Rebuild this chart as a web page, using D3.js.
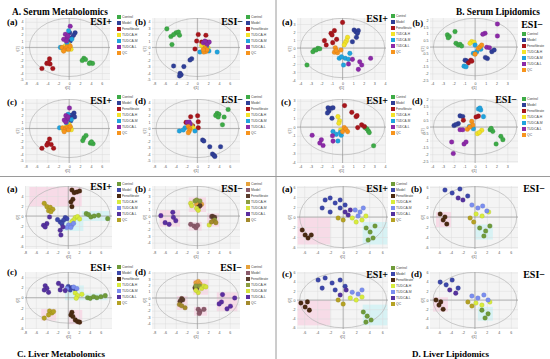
<!DOCTYPE html>
<html>
<head>
<meta charset="utf-8">
<script src="https://cdn.jsdelivr.net/npm/d3@7"></script>
<style>body{margin:0;background:#fff}</style>
</head>
<body>
<svg id="fig" width="550" height="359"></svg>
<script>
// group names shared by every score plot
const groups = ["Control", "Model", "Fenofibrate", "TUDCA-H", "TUDCA-M", "TUDCA-L", "QC"];

const serumColors = ["#3dab47", "#2f3f98", "#a8161c", "#f3e328", "#20a3de", "#8c2aa8", "#f7941d"];
const liverColors = ["#6f9b3a", "#3c47aa", "#4a2a12", "#d8ec3c", "#7b8ef0", "#55329f", "#b5a224"];
const liverColorsAlt = ["#e6a23c", "#8a5a6a", "#5a3c2c", "#8b9c40", "#d5e23c", "#5b2ea0", "#a38a2c"];

// score values: [group index, t[1], t[2]]
const serumMetPosA = [
  [0,2.7,-1.7],[0,3.0,-1.9],[0,2.4,-2.05],[0,3.9,-2.4],[0,4.3,-2.5],[0,3.7,-2.5],
  [1,1.1,2.3],[1,0.1,2.3],[1,0.5,1.5],[1,0.2,1.0],[1,0.8,1.9],
  [2,-3.6,-1.8],[2,-4.1,-2.5],[2,-3.5,-2.6],[2,-3.8,-2.4],[2,-5.0,-3.3],[2,-3.0,-3.3],
  [3,-0.7,0.26],[3,-0.1,0.5],[3,0.2,0],[3,-0.4,-0.3],[3,-1.1,-0.42],[3,0.35,-0.3],
  [4,-0.1,2.6],[4,-1.6,0],[4,0.5,1.3],[4,-0.4,0.74],
  [5,0.2,3.3],[5,-0.7,2.05],[5,-0.4,1.5],[5,-1.0,1.26],[5,-0.2,1.8],[5,-0.5,1.0],
  [6,-1.3,0],[6,-0.7,-0.2],[6,-0.4,0.1],[6,-0.1,-0.3],[6,-1.0,-0.58],[6,0.2,0.2]
];
const serumMetNegB = [
  [0,-5.65,2.9],[0,-3.94,2.3],[0,-3.5,2.4],[0,-3.3,1.9],[0,-4.9,1.7],[0,-4.4,2.0],[0,-4.7,0.44],
  [1,-1.05,-1.77],[1,-1.36,-1.98],[1,-4.4,-2.9],[1,-2.5,-3.0],[1,-3.2,-4.06],[1,-3.0,-4.27],[1,-3.3,-4.47],
  [2,0.17,2.03],[2,1.58,1.9],[2,-0.13,0.99],[2,0.8,0.83],[2,1.8,0.83],[2,-0.44,-0.26],[2,1.4,-0.26],
  [3,0.8,0.3],[3,1.2,0],[3,2.0,-0.1],[3,1.6,0.5],
  [4,0.48,-0.73],[4,3.67,-0.73],[4,2.14,-0.57],[4,1.7,-0.05],
  [5,1.1,0.73],[5,2.2,0.83],[5,1.8,0.45],[5,1.4,0.99],
  [6,1.4,-0.1],[6,1.6,-0.63],[6,1.2,-0.73],[6,1.8,-0.36],[6,1.1,-0.36]
];
const serumMetPosC = [
  [0,2.73,-1.45],[0,3.1,-1.1],[0,2.5,-1.9],[0,3.9,-2.3],[0,4.4,-2.4],[0,4.1,-2.1],
  [1,0.9,2.4],[1,0.5,2.1],[1,0.2,1.6],[1,1.0,1.8],[1,0.3,1.2],
  [2,-3.6,-1.66],[2,-3.9,-2.3],[2,-3.3,-2.5],[2,-5.0,-3.1],[2,-2.85,-3.1],[2,-4.1,-2.6],
  [3,-0.5,0.3],[3,0,0.6],[3,0.3,0.1],[3,-0.3,-0.2],[3,-1.0,-0.3],[3,0.4,-0.2],
  [4,-1.76,0.1],[4,-0.2,2.2],[4,0.4,1.4],[4,-0.5,0.9],
  [5,0.06,3.2],[5,-0.6,2.0],[5,-0.3,1.5],[5,-0.9,1.3],[5,-0.2,1.8],[5,-0.6,1.0],
  [6,-1.2,0.1],[6,-0.7,-0.1],[6,-0.3,0.2],[6,-0.1,-0.2],[6,-0.9,-0.5],[6,0.2,0.3]
];
const serumMetNegD = [
  [0,3.67,2.36],[0,4.0,2.2],[0,3.4,2.04],[0,3.86,1.78],[0,4.96,1.78],[0,5.7,2.97],[0,4.65,0.58],
  [1,0.97,-1.8],[1,1.2,-1.96],[1,2.3,-2.85],[1,4.3,-2.85],[1,2.8,-4.0],[1,3.06,-4.2],[1,3.24,-4.37],
  [2,-1.24,1.83],[2,0.05,1.98],[2,0.17,1.04],[2,0.17,0.1],[2,-2.1,0.94],[2,-0.87,0.42],
  [3,-1.05,0.3],[3,-0.75,0.05],[3,-1.2,0.6],
  [4,-3.33,-0.4],[4,-2.28,0.1],[4,-0.44,-0.4],[4,-2.6,-0.24],
  [5,-1.86,0.94],[5,-1.5,1.0],[5,-1.3,0.7],
  [6,-1.67,0.3],[6,-1.36,-0.05],[6,-1.5,-0.4],[6,-1.67,-0.67]
];
const serumLipPosA = [
  [0,-2.65,-0.25],[0,-2.33,-0.04],[0,-2.8,-0.46],[0,-2.49,-0.25],[0,-2.15,-0.1],[0,-3.36,-2.13],
  [1,1.09,2.25],[1,1.25,2.04],[1,1.49,2.17],[1,1.4,1.83],[1,1.31,1.33],[1,0.93,0.79],
  [2,0,3.2],[2,-0.77,2.17],[2,-1.09,1.83],[2,-0.99,1.63],[2,-1.71,0.92],[2,-1.54,0.38],[2,-0.93,0.67],[2,-0.56,1.08],
  [3,0.47,1.33],[3,0.37,0.92],[3,0.25,0.67],[3,0.15,0.38],
  [4,-0.31,-1.29],[4,0.09,-2.13],[4,0.69,-0.67],[4,0.25,-1.29],[4,0.56,-1.42],[4,-0.1,-1.1],
  [5,0.56,-2.0],[5,1.62,-1.71],[5,1.81,-2.13],[5,1.49,-2.67],[5,2.65,-1.29],[5,0.93,-1.42],
  [6,-0.69,0.04],[6,-0.77,-0.54],[6,-0.47,-0.58],[6,-0.15,-0.25],[6,-0.6,-0.3]
];
const serumLipNegB = [
  [0,-2.58,0.92],[0,-2.4,0.8],[0,-1.87,1.17],[0,-1.78,0.28],[0,-1.56,0.15],[0,-1.4,0.2],[0,-1.25,0.08],[0,-2.5,0.7],
  [1,1.56,-0.35],[1,1.78,-0.23],[1,1.15,-0.87],[1,0.96,-0.79],[1,-0.93,-1.0],[1,-0.78,-1.05],
  [2,-0.4,-1.0],[2,-0.62,-1.2],[2,-0.31,-1.07],
  [3,-0.31,0.41],[3,-0.47,0.28],[3,-0.09,0.36],
  [4,-1.03,-1.45],[4,-0.84,-1.5],[4,0.0,0.15],[4,0.16,-0.35],[4,-0.16,-0.48],[4,0.53,-0.17],
  [5,2.08,1.75],[5,2.08,0.84],[5,0.93,1.04],[5,0.72,0.97],[5,1.09,-0.02],[5,1.34,-0.05],
  [6,0.31,-0.1],[6,0.47,0.02],[6,0,-0.54],[6,0.62,0.15]
];
const serumLipPosC = [
  [0,2.12,-0.06],[0,2.3,-0.21],[0,2.43,-0.44],[0,2.52,-0.63],[0,2.93,-2.13],
  [1,-1.37,2.2],[1,-1.06,2.15],[1,-0.9,2.2],[1,-1.3,1.8],[1,-1.43,1.6],[1,-1.0,1.0],
  [2,0.19,2.45],[2,0.87,1.68],[2,1.28,1.19],[2,1.37,1.3],[2,1.8,0.25],[2,1.43,-0.06],[2,2.06,0.06],
  [3,-0.44,1.19],[3,-0.28,0.71],[3,-0.19,-0.33],[3,-0.35,0.44],
  [4,-0.9,-0.52],[4,-0.59,-0.83],[4,-0.12,-0.94],[4,-0.44,-1.59],[4,-0.2,-0.6],
  [5,-2.87,-0.94],[5,-2.0,-1.44],[5,-2.15,-1.82],[5,-1.84,-2.1],[5,-0.95,-1.0],[5,-0.9,-1.6],
  [6,0.16,-0.06],[6,0.31,-0.25],[6,0.47,-0.52],[6,0,-0.52]
];
const serumLipNegD = [
  [0,1.4,-0.2],[0,1.65,-0.32],[0,1.5,-0.1],[0,2.4,-0.69],[0,2.59,-0.93],[0,1.96,-1.25],
  [1,-1.4,0.82],[1,-1.15,0.77],[1,-1.96,0.11],[1,-1.56,0.25],[1,-1.78,0.18],
  [2,-1.09,0.5],[2,0.31,0.8],[2,0.09,0.74],
  [3,0.22,-0.49],[3,0.62,-0.24],[3,0.4,-0.4],
  [4,0.31,1.32],[4,0.53,1.25],[4,0.45,1.4],[4,0.78,0.76],[4,-0.53,0.04],[4,-0.16,-0.13],
  [5,-1.4,-0.2],[5,-1.15,-0.2],[5,-2.18,-1.1],[5,-1.03,-1.25],[5,-0.84,-1.1],[5,-2.03,-1.95],
  [6,-0.31,0.41],[6,-0.72,-0.17],[6,-0.22,0.14],[6,-0.5,0.0]
];
const liverMetPosA = [
  [0,3.33,0.47],[0,3.76,0.27],[0,4.2,-0.2],[0,4.8,0],[0,5.6,0.13],[0,7.3,-0.53],
  [1,-0.56,-0.33],[1,-0.25,-0.53],[1,-0.87,-0.87],[1,-1.48,-1.2],[1,-1.98,-0.73],[1,-1.17,-1.53],
  [2,0.68,5.2],[2,1.1,4.67],[2,1.6,4.8],[2,2.1,5.0],[2,0.86,3.33],[2,0.5,2.8],[2,0.68,1.87],
  [3,1.3,-0.33],[3,1.72,-0.13],[3,2.1,-0.6],[3,0.99,-0.8],[3,0.68,-1.13],
  [4,0.06,-1.8],[4,0.68,-1.8],[4,-0.25,-2.3],[4,0.49,-2.3],[4,0.99,-1.47],
  [5,-3.46,-0.2],[5,-3.95,-1.53],[5,-4.57,-1.87],[5,-4.26,-2.2],[5,-1.48,-2.87],[5,-1.35,-3.8],[5,-0.98,-2.2],
  [6,-4.44,2.53],[6,-3.95,1.87],[6,-3.33,1.73],[6,-3.64,1.07],[6,-2.84,1.33],[6,-3.2,0.87]
];
const liverMetNegB = [
  [0,0.17,2.15],[0,0.48,1.9],[0,0.79,1.75],[0,-0.13,1.75],
  [1,-1.24,-1.25],[1,-0.63,-1.5],[1,-0.26,-1.75],[1,0.05,-1.4],[1,2.63,-0.1],[1,3.06,-0.25],
  [2,0.2,1.3],[2,0.5,1.55],[2,2.8,-0.05],[2,3.2,-0.2],
  [3,-0.44,2.25],[3,-0.13,2.4],[3,0.48,2.25],[3,3.2,-0.6],
  [4,-1.24,1.9],[4,-1.05,1.55],[4,-0.13,1.15],[4,0.17,0.85],[4,2.2,-1.35],
  [5,-4.55,0.55],[5,-6.76,0.05],[5,-4.44,-0.2],[5,-4.0,-0.7],[5,-5.97,-1.0],[5,-5.23,-1.25],
  [6,2.94,-0.75],[6,3.43,-1.0],[6,2.6,-0.9]
];
const liverMetPosC = [
  [0,3.58,0],[0,4.07,-0.13],[0,4.7,0.2],[0,5.3,0],[0,6.05,0.2],[0,6.85,0.4],
  [1,0.0,2.2],[1,0.68,1.98],[1,1.3,1.66],[1,0.37,1.5],
  [2,0.68,-2.87],[2,0.49,-3.4],[2,0.86,-3.7],[2,1.3,-4.36],[2,1.72,-4.69],[2,2.1,-4.8],
  [3,1.3,0.92],[3,1.72,0.4],[3,1.48,-0.11],[3,2.53,0.66],
  [4,-0.25,1.8],[4,1.0,2.1],[4,1.6,1.79],
  [5,-4.26,2.35],[5,-3.95,1.83],[5,-4.44,1.5],[5,-3.64,1.05],[5,-1.8,2.8],[5,-1.17,2.3],[5,-1.48,1.53],[5,-0.56,1.39],
  [6,-3.46,-2.6],[6,-3.02,-3.0],[6,-3.64,-3.37],[6,-2.72,-2.73],[6,-4.44,-4.0]
];
const liverMetNegD = [
  [0,-0.26,2.4],[0,0.17,2.6],[0,0.48,2.24],
  [1,0.17,-1.8],[1,0.48,-2.15],[1,0.35,-2.46],[1,1.22,-1.8],
  [2,-0.44,1.6],[2,-0.13,1.5],[2,-2.9,-0.1],[2,-2.7,-0.3],[2,-3.2,-0.52],
  [3,0.4,1.9],[3,-0.3,1.9],
  [4,0.79,1.5],[4,1.22,1.9],[4,1.58,1.75],[4,0.17,0.85],[4,-0.26,1.2],
  [5,4.66,0.53],[5,6.92,0],[5,4.47,-0.63],[5,4.04,-0.94],[5,6.13,-1.3],[5,5.5,-1.72],
  [6,-3.33,-1.03],[6,-2.9,-1.24],[6,-2.28,-1.55]
];
const liverLipPosA = [
  [0,3.54,-2.2],[0,4.15,-3.0],[0,4.6,-4.2],[0,3.85,-4.6],[0,4.9,-1.8],
  [1,-2.77,3.4],[1,-2.0,3.8],[1,-1.23,2.8],[1,-0.46,3.4],[1,-3.23,1.8],[1,-2.0,1.0],[1,-0.46,1.8],[1,0.3,2.4],
  [2,-6.3,-2.6],[2,-5.85,-3.6],[2,-5.4,-4.2],[2,-4.9,-3.6],
  [3,1.4,-0.2],[3,2.0,-1.0],[3,2.9,-0.6],[3,3.5,0.2],
  [4,1.85,1.4],[4,2.6,1.0],[4,3.1,1.8],[4,2.3,0.2],
  [5,0.3,1.0],[5,1.1,1.4],[5,0.77,0.4],
  [6,-0.77,-0.2],[6,0,-0.6]
];
const liverLipNegB = [
  [0,0.8,-2.2],[0,1.8,-2.8],[0,2.5,-1.8],[0,1.5,-3.8],
  [1,-5,5.4],[1,-3.8,4.8],[1,-2.5,5.6],[1,-1.2,4.2],
  [2,-5.8,0.6],[2,-5.3,-0.6],[2,-4.7,-1.4],[2,-5,0],
  [3,0.2,0.6],[3,1.2,0.2],[3,2.3,1.0],
  [4,-0.5,2.4],[4,0.5,1.8],[4,1.3,2.2],[4,2,1.2],
  [5,-2.8,3.8],[5,-2,3.4],
  [6,-0.8,-0.2],[6,-0.2,-1]
];
const liverLipPosC = [
  [0,3.1,-2.6],[0,3.7,-3.5],[0,4.3,-4.35],[0,3.5,-4.8],
  [1,-3.85,4.35],[1,-2.77,4.8],[1,-1.7,3.7],[1,-0.46,4.35],[1,-3.23,2.6],[1,-1.23,2.2],[1,0.3,3.0],
  [2,-6.5,-0.65],[2,-5.85,-1.5],[2,-5.2,-2.2],[2,-5.5,-0.4],
  [3,1.1,0.43],[3,2,0],[3,2.9,0.65],
  [4,1.4,1.7],[4,2.3,1.3],[4,2.9,2.2],
  [5,0.46,2.2],[5,-0.46,1.1],
  [6,-0.77,0],[6,0,-0.87]
];
const liverLipNegD = [
  [0,1.17,-2.2],[0,2.2,-3.0],[0,1.7,-3.9],
  [1,-5.8,3.9],[1,-4.8,3.3],[1,-3.8,4.35],[1,-2.8,2.6],
  [2,-6.5,0],[2,-6,-1.1],[2,-5.3,-2.0],[2,-5.7,-0.4],
  [3,0.17,-0.65],[3,1.17,-1.1],[3,2.5,-0.43],
  [4,-0.5,0.87],[4,0.5,0.43],[4,1.5,1.1],[4,2.2,0],
  [5,-4.2,2.2],[5,-3.2,1.5],
  [6,-1.17,-0.43],[6,-0.5,-1.3]
];

const pink = "#f8d3e3", cyan = "#cdf1f4";
const evens8 = [-8, -6, -4, -2, 0, 2, 4, 6];
const ones4to5 = [4, 3, 2, 1, 0, -1, -2, -3, -4, -5];
const ones4 = [-4, -3, -2, -1, 0, 1, 2, 3, 4];
const halves = [2, 1.5, 1, 0.5, 0, -0.5, -1, -1.5, -2, -2.5];
const evens6 = [-6, -4, -2, 0, 2, 4, 6];

const panels = [
  {data: serumMetPosA, pal: serumColors, tag: "(a)", tp: [7, 25], esi: "ESI+", ep: [112, 25],
   x: 25, y: 18, w: 85, h: 62, xd: [-8.1, 7.5], yd: [-5.1, 4.6], xt: evens8, yt: ones4to5, leg: [117, 17]},
  {data: serumMetNegB, pal: serumColors, tag: "(b)", tp: [135, 25], esi: "ESI−", ep: [243, 25],
   x: 152, y: 18, w: 88, h: 62, xd: [-8.4, 7.9], yd: [-5.1, 4.6], xt: evens8, yt: ones4to5, leg: [246, 17]},
  {data: serumMetPosC, pal: serumColors, tag: "(c)", tp: [7, 105], esi: "ESI+", ep: [112, 104],
   x: 25, y: 99, w: 85, h: 64, xd: [-8.1, 7.5], yd: [-5.4, 4.6], xt: evens8, yt: ones4to5, leg: [117, 97]},
  {data: serumMetNegD, pal: serumColors, tag: "(d)", tp: [135, 104], esi: "ESI−", ep: [243, 103],
   x: 152, y: 99, w: 88, h: 64, xd: [-8.4, 7.9], yd: [-5.4, 4.6], xt: evens8, yt: ones4to5, leg: [246, 97]},
  {data: serumLipPosA, pal: serumColors, tag: "(a)", tp: [282, 25], esi: "ESI+", ep: [388, 22],
   x: 297, y: 18, w: 89, h: 62, xd: [-4.3, 4.1], yd: [-4, 3.75], xt: ones4, yt: [3, 2, 1, 0, -1, -2, -3, -4], leg: [391, 16], legFont: 3.1},
  {data: serumLipNegB, pal: serumColors, tag: "(b)", tp: [412.5, 26], esi: "ESI−", ep: [543, 28],
   x: 430, y: 18, w: 88, h: 62, xd: [-4.2, 4.0], yd: [-2.5, 2.2], xt: [-4, -3, -2, -1, 0, 1, 2, 3], yt: halves, leg: [522, 34], tagFont: 8.6},
  {data: serumLipPosC, pal: serumColors, tag: "(c)", tp: [281, 105], esi: "ESI+", ep: [388, 104],
   x: 297, y: 99, w: 89, h: 64, xd: [-4.3, 4.1], yd: [-4.1, 3.2], xt: ones4, yt: [3, 2, 1, 0, -1, -2, -3, -4], leg: [391, 97], legFont: 3.1},
  {data: serumLipNegD, pal: serumColors, tag: "(d)", tp: [412, 104], esi: "ESI−", ep: [517, 103],
   x: 430, y: 99, w: 88, h: 64, xd: [-4.2, 4.0], yd: [-2.65, 2.06], xt: [-4, -3, -2, -1, 0, 1, 2, 3], yt: halves, leg: [522, 99], tagFont: 8.6},
  {data: liverMetPosA, pal: liverColors, tag: "(a)", tp: [7, 192], esi: "ESI+", ep: [112, 190],
   x: 25, y: 186, w: 87, h: 63, xd: [-8, 8.1], yd: [-6.6, 6.0], xt: evens8, yt: [4, 2, 0, -2, -4, -6], leg: [117, 184],
   shades: [[-7.2, 2.5, 1.9, 5.8, pink], [-1.5, 2.8, -3, -0.5, cyan], [2.5, 7.6, -1, 1, cyan]]},
  {data: liverMetNegB, pal: liverColorsAlt, tag: "(b)", tp: [135, 192], esi: "ESI−", ep: [243, 192],
   x: 152, y: 186, w: 88, h: 63, xd: [-8.4, 7.9], yd: [-4.95, 4.5], xt: evens8, yt: ones4.slice().reverse(), leg: [246, 184],
   shades: [[-7, -3.2, -1.6, 0.9, pink], [-1.6, 0.8, -2.2, -0.9, pink], [-1.6, 1.6, 0.6, 2.8, pink], [1.8, 4, -1.6, 0.4, pink]]},
  {data: liverMetPosC, pal: liverColors, tag: "(c)", tp: [7, 275], esi: "ESI+", ep: [112, 271],
   x: 25, y: 272, w: 87, h: 57, xd: [-8, 8.1], yd: [-6.14, 5.04], xt: evens8, yt: [4, 2, 0, -2, -4, -6], leg: [117, 267],
   shades: [[-5, -2.2, -4.5, -2.2, pink], [0, 2.6, -5.2, -2.4, pink], [-0.6, 2.9, -0.5, 2.4, cyan], [3, 7.3, -0.5, 0.8, cyan]]},
  {data: liverMetNegD, pal: liverColorsAlt, tag: "(d)", tp: [135, 275], esi: "ESI−", ep: [242, 271],
   x: 152, y: 272, w: 88, h: 57, xd: [-8.4, 7.9], yd: [-4.9, 4.1], xt: evens8, yt: ones4.slice().reverse(), leg: [246, 267],
   shades: [[-3.8, -1.8, -1.9, 0.3, pink], [-0.6, 1.8, -2.8, -1.4, pink], [-0.8, 2, 0.5, 2.9, pink], [3.6, 7.4, -2.1, 0.9, pink]]},
  {data: liverLipPosA, pal: liverColors, tag: "(a)", tp: [282, 192], esi: "ESI+", ep: [388, 192],
   x: 297, y: 186, w: 91, h: 63, xd: [-7.1, 6.9], yd: [-6.4, 6.2], xt: evens6, yt: evens6.slice().reverse(), leg: [391, 184],
   shades: [[-7, -2, -5.5, 0, pink], [3, 6.8, -5.5, -1, cyan]]},
  {data: liverLipNegB, pal: liverColors, tag: "(b)", tp: [411, 192], esi: "ESI−", ep: [545, 192],
   x: 430, y: 186, w: 88, h: 63, xd: [-7.5, 7.2], yd: [-6.4, 6.2], xt: evens6, yt: evens6.slice().reverse(),
   shades: [[-6.5, -4, -2, 1, pink], [0, 3, -4.5, -1.5, cyan]]},
  {data: liverLipPosC, pal: liverColors, tag: "(c)", tp: [282, 277], esi: "ESI+", ep: [388, 278],
   x: 297, y: 272, w: 91, h: 57, xd: [-7.1, 6.9], yd: [-6.3, 6.1], xt: evens6, yt: evens6.slice().reverse(), leg: [391, 268],
   shades: [[-7, -2, -5.5, 0, pink], [3, 6.8, -5.5, -1, cyan]]},
  {data: liverLipNegD, pal: liverColors, tag: "(d)", tp: [411, 277], esi: "ESI−", ep: [545, 278],
   x: 430, y: 272, w: 88, h: 57, xd: [-7.5, 7.2], yd: [-6.3, 6.1], xt: evens6, yt: evens6.slice().reverse(),
   shades: [[-7, -4.5, -2.5, 0.6, pink], [0.5, 3, -4.5, -1.5, cyan]]}
];

const svg = d3.select("#fig");
svg.append("rect").attr("width", 550).attr("height", 359).attr("fill", "#fff");
const defs = svg.append("defs");
const serif = "'Liberation Serif', 'Times New Roman', serif";
const sans = "'Liberation Sans', Arial, sans-serif";

function drawPanel(p, i) {
  const x = d3.scaleLinear().domain(p.xd).range([p.x, p.x + p.w]);
  const y = d3.scaleLinear().domain(p.yd).range([p.y + p.h, p.y]);
  const g = svg.append("g");

  defs.append("clipPath").attr("id", "clip" + i)
    .append("rect").attr("x", p.x).attr("y", p.y).attr("width", p.w).attr("height", p.h);

  g.append("rect")
    .attr("x", p.x).attr("y", p.y).attr("width", p.w).attr("height", p.h)
    .attr("fill", "#f4f4f4");

  const inner = g.append("g").attr("clip-path", "url(#clip" + i + ")");

  // highlighted regions
  (p.shades || []).forEach(s => {
    inner.append("rect")
      .attr("x", x(s[0])).attr("y", y(s[3]))
      .attr("width", x(s[1]) - x(s[0])).attr("height", y(s[2]) - y(s[3]))
      .attr("fill", s[4]).attr("opacity", 0.75);
  });

  // grid
  inner.append("g").attr("transform", `translate(0,${p.y + p.h})`)
    .call(d3.axisBottom(x).tickValues(p.xt).tickSize(-p.h).tickFormat(""))
    .call(a => { a.select(".domain").remove(); a.selectAll("line").attr("stroke", "#dcdcdc").attr("stroke-width", 0.5); });
  inner.append("g").attr("transform", `translate(${p.x},0)`)
    .call(d3.axisLeft(y).tickValues(p.yt).tickSize(-p.w).tickFormat(""))
    .call(a => { a.select(".domain").remove(); a.selectAll("line").attr("stroke", "#dcdcdc").attr("stroke-width", 0.5); });

  // Hotelling ellipse
  const rx = Math.min(-p.xd[0], p.xd[1]) * 0.97;
  const ry = Math.min(-p.yd[0], p.yd[1]) * 0.99;
  inner.append("ellipse")
    .attr("cx", x(0)).attr("cy", y(0))
    .attr("rx", x(rx) - x(0)).attr("ry", y(0) - y(ry))
    .attr("fill", "none").attr("stroke", "#b5b5b5").attr("stroke-width", 0.7);

  // zero lines
  inner.append("line").attr("x1", x(0)).attr("x2", x(0)).attr("y1", p.y).attr("y2", p.y + p.h)
    .attr("stroke", "#8c8c8c").attr("stroke-width", 0.6);
  inner.append("line").attr("x1", p.x).attr("x2", p.x + p.w).attr("y1", y(0)).attr("y2", y(0))
    .attr("stroke", "#8c8c8c").attr("stroke-width", 0.6);

  // tick labels
  const ax = g.append("g").attr("transform", `translate(0,${p.y + p.h})`)
    .call(d3.axisBottom(x).tickValues(p.xt).tickSize(0).tickPadding(2.2).tickFormat(d => d));
  const ay = g.append("g").attr("transform", `translate(${p.x},0)`)
    .call(d3.axisLeft(y).tickValues(p.yt).tickSize(0).tickPadding(1.4).tickFormat(d => d));
  [ax, ay].forEach(a => {
    a.select(".domain").remove();
    a.selectAll("text").attr("font-size", 3.6).attr("fill", "#555").attr("font-family", sans);
  });
  g.append("text").attr("x", p.x + p.w / 2).attr("y", p.y + p.h + 9)
    .attr("text-anchor", "middle").attr("font-size", 3.6).attr("fill", "#555").attr("font-family", sans)
    .text("t[1]");
  g.append("text")
    .attr("transform", `translate(${p.x - 6.5},${p.y + p.h / 2}) rotate(-90)`)
    .attr("text-anchor", "middle").attr("font-size", 3.6).attr("fill", "#555").attr("font-family", sans)
    .text("t[2]");

  // score points
  inner.selectAll("circle.pt").data(p.data).join("circle")
    .attr("class", "pt")
    .attr("cx", d => x(d[1])).attr("cy", d => y(d[2]))
    .attr("r", 2.3)
    .attr("fill", d => p.pal[d[0]])
    .attr("stroke", d => d3.color(p.pal[d[0]]).darker(0.7))
    .attr("stroke-width", 0.3);

  // panel tag and ionisation mode
  g.append("text").attr("x", p.tp[0]).attr("y", p.tp[1])
    .attr("font-family", serif).attr("font-weight", "bold").attr("font-size", p.tagFont || 9)
    .text(p.tag);
  g.append("text").attr("x", p.ep[0]).attr("y", p.ep[1])
    .attr("text-anchor", "end")
    .attr("font-family", serif).attr("font-weight", "bold").attr("font-size", 10)
    .text(p.esi);

  // legend
  if (p.leg) {
    const lg = g.append("g").attr("transform", `translate(${p.leg[0]},${p.leg[1]})`);
    groups.forEach((name, k) => {
      lg.append("rect").attr("x", 0).attr("y", k * 6 - 2).attr("width", 4).attr("height", 4)
        .attr("fill", p.pal[k]);
      lg.append("text").attr("x", 5).attr("y", k * 6 + 1.3)
        .attr("font-size", p.legFont || 3.4).attr("fill", "#444").attr("font-family", sans)
        .text(name);
    });
  }
}

panels.forEach(drawPanel);

// section separators
svg.append("line").attr("x1", 0).attr("x2", 550).attr("y1", 176.5).attr("y2", 176.5)
  .attr("stroke", "#9a9a9a").attr("stroke-width", 1);
svg.append("line").attr("x1", 276).attr("x2", 276).attr("y1", 0).attr("y2", 359)
  .attr("stroke", "#9a9a9a").attr("stroke-width", 1);

// section titles
const titles = [
  ["A. Serum Metabolomics", 12, 15, 9.3],
  ["B. Serum Lipidomics", 456, 15, 9.3],
  ["C. Liver Metabolomics", 17, 357, 9],
  ["D. Liver Lipidomics", 412, 357, 9]
];
titles.forEach(t => {
  svg.append("text").attr("x", t[1]).attr("y", t[2])
    .attr("font-family", serif).attr("font-weight", "bold").attr("font-size", t[3])
    .text(t[0]);
});
</script>
</body>
</html>
